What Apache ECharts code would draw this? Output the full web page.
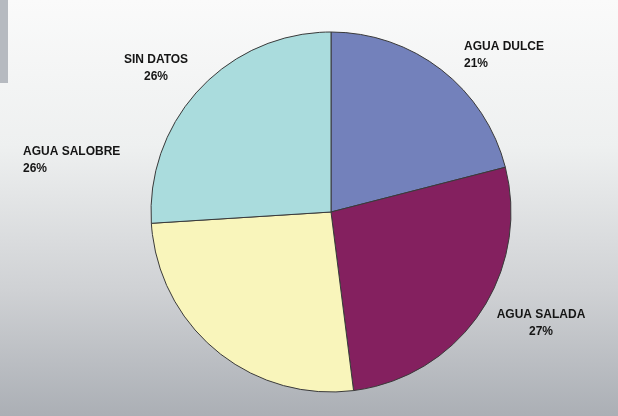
<!DOCTYPE html>
<html>
<head>
<meta charset="utf-8">
<script src="https://cdn.jsdelivr.net/npm/echarts@6/dist/echarts.min.js"></script>
<style>
html,body{margin:0;padding:0;background:#fff;}
#wrap{position:relative;width:618px;height:416px;overflow:hidden;}
#chart{position:absolute;left:0;top:0;width:618px;height:416px;}
#strip{position:absolute;left:0;top:0;width:8px;height:83px;background:#b6bac0;}
</style>
</head>
<body>
<div id="wrap"><div id="chart"></div><div id="strip"></div></div>
<script>
const categories = ['AGUA DULCE', 'AGUA SALADA', 'AGUA SALOBRE', 'SIN DATOS'];
const values = [21, 27, 26, 26];
const colors = ['#7381bb', '#84205f', '#f9f5bb', '#aadcdd'];
const labelSpots = [
  {x: 464, y: 38, align: 'left'},
  {x: 541, y: 306, align: 'center'},
  {x: 23, y: 143, align: 'left'},
  {x: 156, y: 51, align: 'center'}
];

const chart = echarts.init(document.getElementById('chart'));
chart.setOption({
  backgroundColor: {
    type: 'linear', x: 0, y: 0, x2: 0, y2: 1,
    colorStops: [
      {offset: 0, color: '#fafafa'},
      {offset: 0.35, color: '#eef0f0'},
      {offset: 0.7, color: '#cfd1d4'},
      {offset: 1, color: '#abafb5'}
    ]
  },
  animation: false,
  series: [{
    type: 'pie',
    center: [331, 212],
    radius: 180,
    startAngle: 90,
    clockwise: true,
    avoidLabelOverlap: false,
    data: categories.map((c, i) => ({name: c, value: values[i], itemStyle: {color: colors[i]}})),
    itemStyle: {borderColor: '#3a3a3a', borderWidth: 1},
    label: {
      show: true,
      position: 'outside',
      formatter: '{b}\n{d}%',
      fontFamily: 'Liberation Sans, Arial, sans-serif',
      fontWeight: 'bold',
      fontSize: 12,
      lineHeight: 17,
      color: '#151515'
    },
    labelLine: {show: false},
    labelLayout: function (p) {
      const s = labelSpots[p.dataIndex];
      return {x: s.x, y: s.y, align: s.align, verticalAlign: 'top'};
    }
  }]
});
</script>
</body>
</html>
